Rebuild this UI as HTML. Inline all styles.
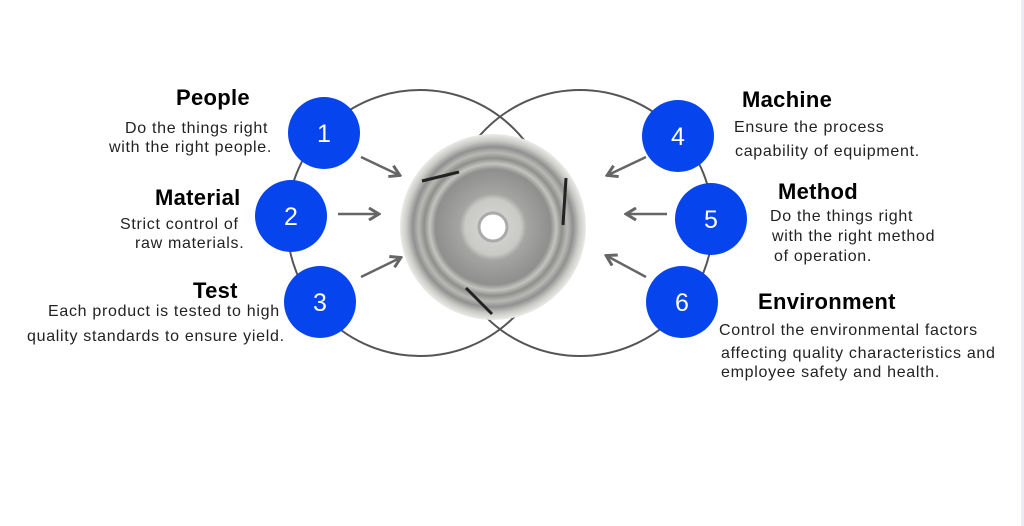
<!DOCTYPE html>
<html><head><style>
body{margin:0;width:1024px;height:526px;background:#fff;position:relative;overflow:hidden;font-family:"Liberation Sans",Arial,sans-serif;color:#111}
.t{position:absolute;white-space:nowrap}
.h{font-size:22px;font-weight:bold;color:#000;letter-spacing:0.3px}
.d{font-size:16px;line-height:19px;color:#222;letter-spacing:0.7px}
</style></head><body>
<div style="position:absolute;left:1021px;top:0;width:3px;height:526px;background:#ecebfa"></div>
<svg width="1024" height="526" style="position:absolute;left:0;top:0">
<defs>
<radialGradient id="g1" cx="50%" cy="50%" r="50%">
<stop offset="0" stop-color="#d8d8d6"/><stop offset="0.3" stop-color="#c9c9c6"/><stop offset="0.36" stop-color="#a4a5a2"/><stop offset="0.62" stop-color="#8f908d"/><stop offset="0.68" stop-color="#c3c3c0"/><stop offset="0.74" stop-color="#8e8e8a"/><stop offset="0.8" stop-color="#b8b8b4"/><stop offset="0.86" stop-color="#909090"/><stop offset="0.93" stop-color="#c9c9c5"/><stop offset="1" stop-color="#ebebe8"/>
</radialGradient>
<marker id="a" markerWidth="14" markerHeight="14" refX="11" refY="7" orient="auto" markerUnits="userSpaceOnUse"><path d="M2,1 L12,7 L2,13" fill="none" stroke="#666" stroke-width="3"/></marker>
</defs>
<circle cx="420" cy="223" r="133" fill="none" stroke="#555" stroke-width="2"/>
<circle cx="580" cy="223" r="133" fill="none" stroke="#555" stroke-width="2"/>
<circle cx="493" cy="227" r="93" fill="url(#g1)"/>
<circle cx="493" cy="227" r="14" fill="#fff" stroke="#aaa" stroke-width="3"/>
<line x1="422" y1="181" x2="459" y2="172" stroke="#222" stroke-width="3"/>
<line x1="566" y1="178" x2="563" y2="225" stroke="#222" stroke-width="3"/>
<line x1="466" y1="288" x2="492" y2="314" stroke="#222" stroke-width="3"/>
<g stroke="#666" stroke-width="2.5" marker-end="url(#a)">
<line x1="361" y1="157" x2="399" y2="175"/>
<line x1="338" y1="214" x2="378" y2="214"/>
<line x1="361" y1="277" x2="400" y2="258"/>
<line x1="646" y1="157" x2="608" y2="175"/>
<line x1="667" y1="214" x2="627" y2="214"/>
<line x1="646" y1="277" x2="607" y2="256"/>
</g>
<g fill="#0645ee">
<circle cx="324" cy="133" r="36"/><circle cx="291" cy="216" r="36"/><circle cx="320" cy="302" r="36"/>
<circle cx="678" cy="136" r="36"/><circle cx="711" cy="219" r="36"/><circle cx="682" cy="302" r="36"/>
</g>
<g fill="#fff" font-family="Liberation Sans,Arial,sans-serif" font-size="25" text-anchor="middle">
<text x="324" y="142">1</text><text x="291" y="225">2</text><text x="320" y="311">3</text>
<text x="678" y="145">4</text><text x="711" y="228">5</text><text x="682" y="311">6</text>
</g>
</svg>
<div class="t h" style="left:176px;top:85px">People</div>
<div class="t d" style="left:125px;top:119px">Do the things right</div>
<div class="t d" style="left:109px;top:138px">with the right people.</div>
<div class="t h" style="left:155px;top:185px">Material</div>
<div class="t d" style="left:120px;top:215px">Strict control of</div>
<div class="t d" style="left:135px;top:234px">raw materials.</div>
<div class="t h" style="left:193px;top:278px">Test</div>
<div class="t d" style="left:48px;top:302px">Each product is tested to high</div>
<div class="t d" style="left:27px;top:327px">quality standards to ensure yield.</div>
<div class="t h" style="left:742px;top:87px">Machine</div>
<div class="t d" style="left:734px;top:118px">Ensure the process</div>
<div class="t d" style="left:735px;top:142px">capability of equipment.</div>
<div class="t h" style="left:778px;top:179px">Method</div>
<div class="t d" style="left:770px;top:207px">Do the things right</div>
<div class="t d" style="left:772px;top:227px">with the right method</div>
<div class="t d" style="left:774px;top:247px">of operation.</div>
<div class="t h" style="left:758px;top:289px">Environment</div>
<div class="t d" style="left:719px;top:321px">Control the environmental factors</div>
<div class="t d" style="left:721px;top:344px">affecting quality characteristics and</div>
<div class="t d" style="left:721px;top:363px">employee safety and health.</div>
</body></html>
